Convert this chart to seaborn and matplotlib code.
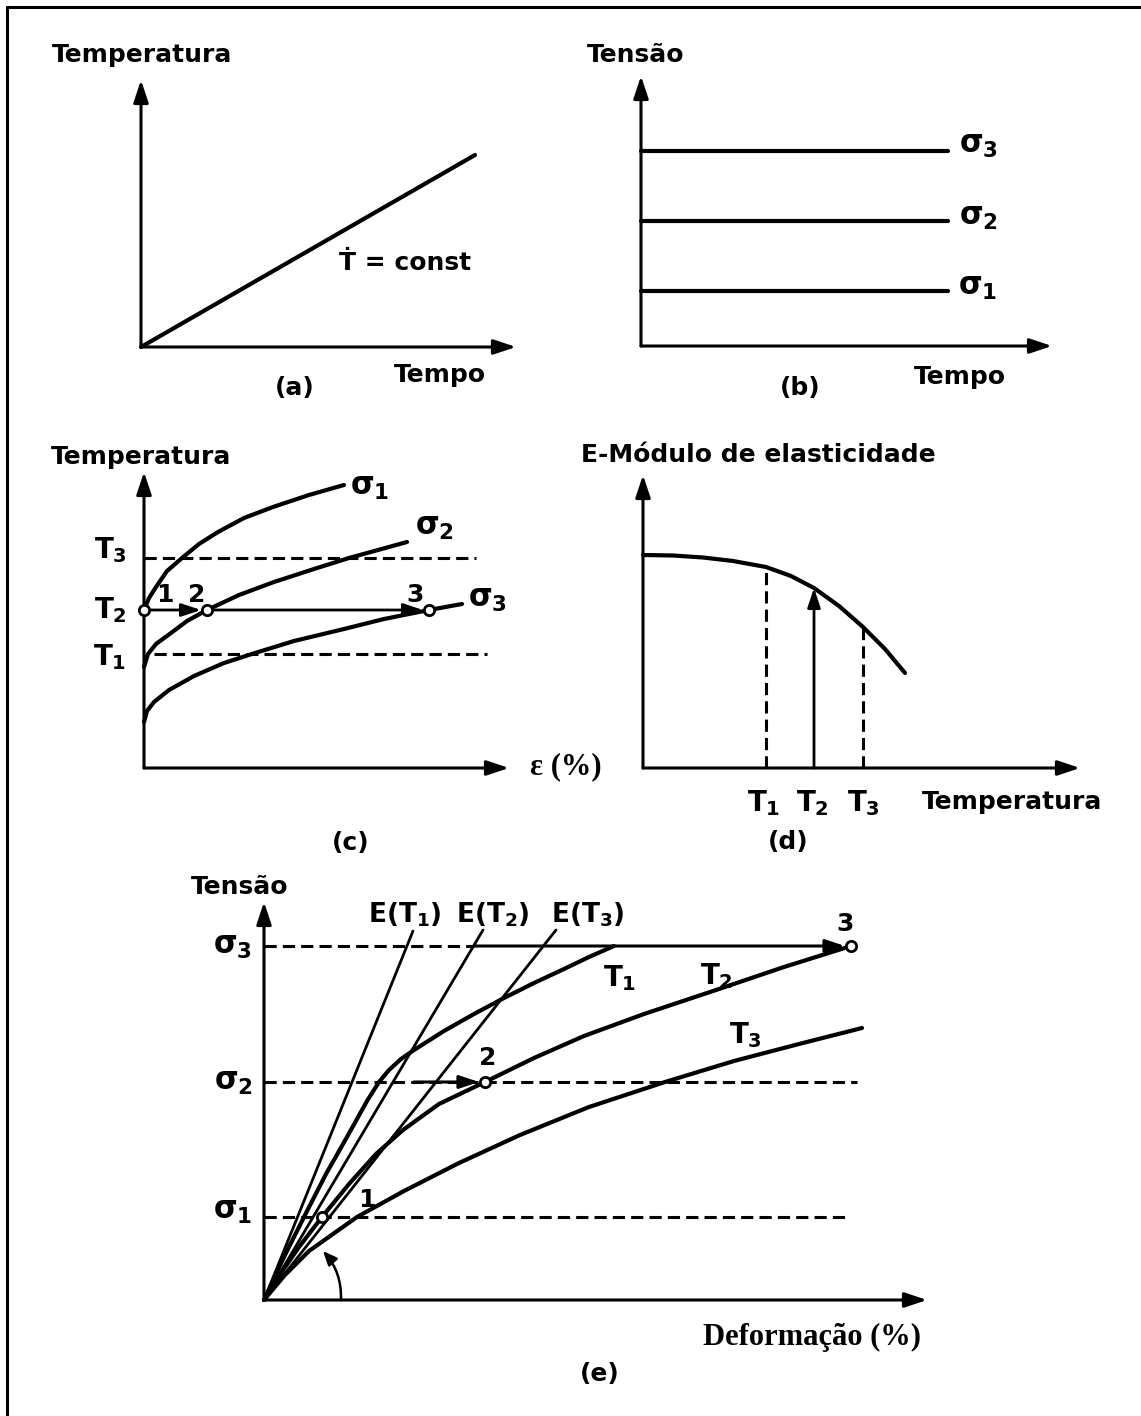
import numpy as np
import pandas as pd
import matplotlib
matplotlib.use("Agg")
import matplotlib.pyplot as plt
from matplotlib.lines import Line2D
import seaborn as sns

sns.set_theme(style="white")
plt.rcParams["font.family"] = ["DejaVu Sans"]
plt.rcParams["text.color"] = "black"
plt.rcParams["mathtext.fontset"] = "custom"
plt.rcParams["mathtext.rm"] = "DejaVu Sans:bold"
plt.rcParams["mathtext.it"] = "DejaVu Sans:bold"
plt.rcParams["mathtext.bf"] = "DejaVu Sans:bold"

# ---- data (arbitrary units) ----
# (a) temperature rises at constant rate
a_time = [0, 33.4]
a_temp = [0, 19.2]

# (b) three constant stress levels
b_time = [0, 30.7]
b_stress = [5.5, 12.5, 19.5]
b_labels = [r"$\sigma_1$", r"$\sigma_2$", r"$\sigma_3$"]

# (c) temperature vs strain for each stress
c_levels = [11.4, 15.8, 21.0]          # T1, T2, T3
c_sig1_eps = [0, 0.5, 1.2, 2.3, 3.8, 5.5, 7.4, 10.0, 12.9, 16.5, 20.0]
c_sig1_T = [15.8, 17.0, 18.1, 19.7, 21.0, 22.4, 23.6, 25.0, 26.1, 27.3, 28.3]
c_sig2_eps = [0, 0.4, 1.2, 2.7, 4.3, 6.3, 9.5, 13.0, 17.0, 20.5, 26.3]
c_sig2_T = [10.1, 11.4, 12.4, 13.5, 14.7, 15.8, 17.3, 18.6, 19.9, 21.0, 22.6]
c_sig3_eps = [0, 0.3, 1.0, 2.5, 5.0, 8.0, 11.1, 15.0, 20.0, 24.0, 28.5, 31.8]
c_sig3_T = [4.6, 5.7, 6.6, 7.8, 9.2, 10.5, 11.5, 12.7, 13.9, 14.9, 15.8, 16.4]
c_pts_eps = [0, 6.3, 28.5]

# (d) elastic modulus vs temperature
d_temp = [0, 3, 6, 9, 12.3, 14.8, 17.1, 19.6, 22.0, 24.2, 26.2]
d_mod = [21.3, 21.25, 21.05, 20.7, 20.1, 19.2, 18.0, 16.2, 14.1, 11.9, 9.5]
d_marks = [12.3, 17.1, 22.0]
d_marks_mod = [20.1, 18.0, 14.1]

# (e) stress vs strain for each temperature
e_levels = [8.3, 21.8, 35.4]           # sigma1, sigma2, sigma3
e_T1_eps = [0, 2.0, 4.0, 6.2, 8.3, 10.3, 11.5, 12.5, 13.7, 15.0, 18.0, 21.0, 24.0, 27.0, 30.0, 32.5, 35.0]
e_T1_sig = [0, 4.3, 8.3, 12.6, 16.3, 19.9, 21.8, 23.0, 24.1, 25.0, 26.9, 28.6, 30.2, 31.7, 33.1, 34.3, 35.4]
e_T2_eps = [0, 1.5, 3.5, 5.8, 8.5, 11.2, 13.9, 17.5, 22.1, 27.0, 32.0, 38.0, 45.5, 52.0, 58.7]
e_T2_sig = [0, 2.4, 5.3, 8.3, 11.6, 14.6, 17.0, 19.6, 21.8, 24.2, 26.4, 28.6, 31.1, 33.3, 35.4]
e_T3_eps = [0, 2.0, 4.5, 9.3, 14.0, 19.5, 25.6, 32.5, 40.1, 47.0, 53.5, 59.8]
e_T3_sig = [0, 2.4, 4.9, 8.3, 10.9, 13.7, 16.5, 19.3, 21.8, 23.9, 25.6, 27.2]
e_mod_eps = [14.9, 21.9, 29.2]
e_mod_sig = [36.9, 37.0, 37.0]
e_pts_eps = [5.8, 22.1, 58.7]

W, H = 1141, 1416
fig = plt.figure(figsize=(W / 100, H / 100), dpi=100)
fig.patch.set_facecolor("white")

LW = 3.0
AX_LW = 2.2


def arrow(ax, start, end, lw=AX_LW, hl=0.9, hw=0.3, ms=15):
    ax.annotate("", xy=end, xytext=start,
                arrowprops=dict(arrowstyle=f"-|>,head_length={hl},head_width={hw}",
                                lw=lw, color="black", shrinkA=0, shrinkB=0,
                                mutation_scale=ms))


def panel(ox, oy, tipx, tipy):
    ax = fig.add_axes([ox / W, 1 - oy / H, (tipx - ox) / W, (oy - tipy) / H])
    xmax, ymax = (tipx - ox) / 10, (oy - tipy) / 10
    ax.set_xlim(0, xmax)
    ax.set_ylim(0, ymax)
    ax.set_axis_off()
    arrow(ax, (0, 0), (xmax, 0))
    arrow(ax, (0, 0), (0, ymax))
    return ax


def curve(ax, x, y, lw=LW, ls="-"):
    sns.lineplot(x=x, y=y, ax=ax, color="black", lw=lw, linestyle=ls,
                 sort=False, estimator=None, clip_on=False,
                 solid_joinstyle="round")


def circles(ax, x, y):
    sns.scatterplot(x=x, y=y, ax=ax, marker="o", s=55, facecolor="white",
                    edgecolor="black", linewidth=2, zorder=6, clip_on=False)


def label(px, py, s, size=18, **kw):
    kw.setdefault("weight", "bold")
    fig.text(px / W, 1 - py / H, s, ha=kw.pop("ha", "center"), va="center",
             fontsize=size, color="black", **kw)


DASH = (0, (4, 2))

# ---- (a) ----
ax = panel(141, 347, 516, 80)
curve(ax, a_time, a_temp)
label(142, 55, "Temperatura")
label(405, 263, "Ṫ = const")
label(440, 375, "Tempo")
label(295, 388, "(a)")

# ---- (b) ----
ax = panel(641, 346, 1052, 76)
for s in b_stress:
    curve(ax, b_time, [s, s])
for s, txt in zip([287, 217, 145], b_labels):
    label(978, s, txt, size=22)
label(636, 55, "Tensão")
label(960, 377, "Tempo")
label(800, 388, "(b)")

# ---- (c) ----
ax = panel(144, 768, 509, 472)
curve(ax, [1.0, 34.3], [c_levels[0]] * 2, lw=AX_LW, ls=DASH)
curve(ax, [0, 33.2], [c_levels[2]] * 2, lw=AX_LW, ls=DASH)
curve(ax, c_sig1_eps, c_sig1_T)
curve(ax, c_sig2_eps, c_sig2_T)
curve(ax, c_sig3_eps, c_sig3_T)
arrow(ax, (0, c_levels[1]), (c_pts_eps[1] - 0.6, c_levels[1]), lw=2.0, ms=13)
arrow(ax, (c_pts_eps[1], c_levels[1]), (c_pts_eps[2] - 0.6, c_levels[1]), lw=2.0, ms=13)
circles(ax, c_pts_eps, [c_levels[1]] * 3)
label(141, 457, "Temperatura")
label(110, 550, r"$T_3$", size=20)
label(110, 610, r"$T_2$", size=20)
label(110, 657, r"$T_1$", size=20)
label(165, 595, "1", size=18)
label(197, 595, "2", size=18)
label(415, 595, "3", size=18)
label(370, 487, r"$\sigma_1$", size=22)
label(434, 528, r"$\sigma_2$", size=22)
label(487, 600, r"$\sigma_3$", size=22)
label(530, 767, "ε (%)", size=22, ha="left", family="Liberation Serif")
label(351, 843, "(c)")

# ---- (d) ----
ax = panel(643, 768, 1080, 475)
curve(ax, d_temp, d_mod)
curve(ax, [d_marks[0]] * 2, [0, d_marks_mod[0]], lw=AX_LW, ls=DASH)
curve(ax, [d_marks[2]] * 2, [0, d_marks_mod[2]], lw=AX_LW, ls=DASH)
arrow(ax, (d_marks[1], 0), (d_marks[1], d_marks_mod[1]), lw=2.0, ms=13)
label(758, 455, "E-Módulo de elasticidade")
for px, txt in zip([764, 812, 863], [r"$T_1$", r"$T_2$", r"$T_3$"]):
    label(px, 803, txt, size=20)
label(1012, 802, "Temperatura")
label(788, 842, "(d)")

# ---- (e) ----
ax = panel(264, 1300, 927, 902)
curve(ax, [0, 59.3], [e_levels[1]] * 2, lw=AX_LW, ls=DASH)
curve(ax, [0, 58.1], [e_levels[0]] * 2, lw=AX_LW, ls=DASH)
curve(ax, [0, 21.0], [e_levels[2]] * 2, lw=AX_LW, ls=DASH)
for mx, my in zip(e_mod_eps, e_mod_sig):
    curve(ax, [0, mx], [0, my], lw=2.0)
curve(ax, e_T1_eps, e_T1_sig)
curve(ax, e_T2_eps, e_T2_sig)
curve(ax, e_T3_eps, e_T3_sig)
arrow(ax, (21.0, e_levels[2]), (e_pts_eps[2] - 0.6, e_levels[2]), lw=2.2, ms=13)
arrow(ax, (15.0, e_levels[1]), (e_pts_eps[1] - 0.6, e_levels[1]), lw=2.2, ms=13)
ax.annotate("", xy=(5.9, 4.9), xytext=(7.7, 0),
            arrowprops=dict(arrowstyle="-|>,head_length=0.7,head_width=0.3",
                            lw=1.8, color="black", shrinkA=0, shrinkB=0,
                            mutation_scale=12, connectionstyle="arc3,rad=0.2"))
circles(ax, e_pts_eps, e_levels)
label(240, 887, "Tensão")
label(232, 946, r"$\sigma_3$", size=22)
label(233, 1083, r"$\sigma_2$", size=22)
label(233, 1212, r"$\sigma_1$", size=22)
label(405, 915, r"$\mathrm{E(T_1)}$", size=19)
label(493, 915, r"$\mathrm{E(T_2)}$", size=19)
label(588, 915, r"$\mathrm{E(T_3)}$", size=19)
label(845, 924, "3", size=18)
label(488, 1058, "2", size=18)
label(367, 1200, "1", size=18)
label(620, 978, r"$T_1$", size=20)
label(716, 976, r"$T_2$", size=20)
label(745, 1035, r"$T_3$", size=20)
label(812, 1337, "Deformação (%)", size=22, family="Liberation Serif")
label(600, 1374, "(e)")

# frame (left and top edges only)
fig.add_artist(Line2D([7 / W, 7 / W], [0, 1 - 7 / H], color="black", lw=2.2,
                      transform=fig.transFigure))
fig.add_artist(Line2D([7 / W, 1], [1 - 7 / H, 1 - 7 / H], color="black", lw=2.2,
                      transform=fig.transFigure))

fig.savefig("out.png", dpi=100, facecolor="white")
